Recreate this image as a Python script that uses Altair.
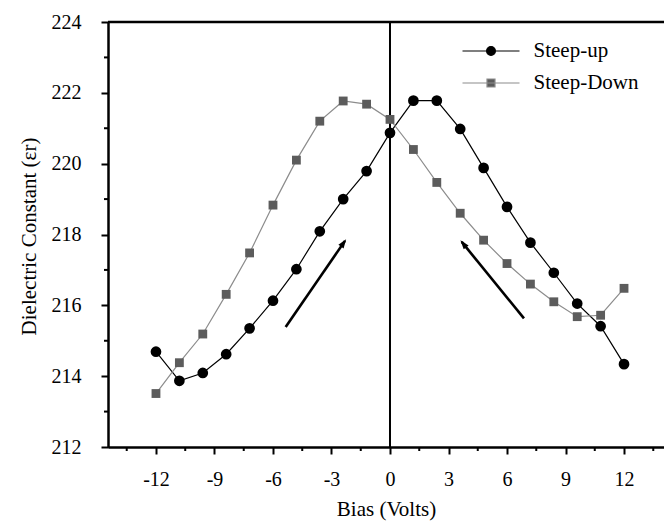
import altair as alt
import pandas as pd

# ---- data ----
bias = [-12.0, -10.8, -9.6, -8.4, -7.2, -6.0, -4.8, -3.6, -2.4, -1.2, 0.0,
        1.2, 2.4, 3.6, 4.8, 6.0, 7.2, 8.4, 9.6, 10.8, 12.0]
steep_up = [214.69, 213.87, 214.09, 214.62, 215.35, 216.13, 217.02, 218.09, 219.00, 219.79, 220.87,
            221.78, 221.78, 220.98, 219.88, 218.78, 217.77, 216.92, 216.05, 215.41, 214.34]
steep_down = [213.51, 214.38, 215.19, 216.31, 217.48, 218.83, 220.10, 221.20, 221.77, 221.68, 221.25,
              220.40, 219.47, 218.60, 217.84, 217.18, 216.60, 216.10, 215.68, 215.72, 216.48]
series_names = ["Steep-up", "Steep-Down"]
line_colors = ["#000000", "#8c8c8c"]
marker_fills = ["#000000", "#5c5c5c"]

x_major_ticks = [-12, -9, -6, -3, 0, 3, 6, 9, 12]
x_minor_ticks = [-13.5, -10.5, -7.5, -4.5, -1.5, 1.5, 4.5, 7.5, 10.5, 13.5]
y_major_ticks = [212, 214, 216, 218, 220, 222, 224]
y_minor_ticks = [213, 215, 217, 219, 221, 223]
x_domain = [-14.46, 14.05]
y_domain = [212, 224]

zero_line = [0]
top_border = [224]

arrow_id = ["up", "up", "down", "down"]
arrow_x = [-5.35, -2.31, 6.87, 3.68]
arrow_y = [215.39, 217.82, 215.63, 217.79]
head_x = [-2.31, 3.68]
head_y = [217.82, 217.79]
head_angle = [34.6, 321.0]

W, H = 556, 425

# ---- tables ----
df = pd.DataFrame({
    "x": bias + bias,
    "y": steep_up + steep_down,
    "series": [series_names[0]] * len(bias) + [series_names[1]] * len(bias),
})
arrows = pd.DataFrame({"id": arrow_id, "x": arrow_x, "y": arrow_y})
heads = pd.DataFrame({"x": head_x, "y": head_y, "angle": head_angle})

x_scale = alt.Scale(domain=x_domain, nice=False, zero=False)
y_scale = alt.Scale(domain=y_domain, nice=False, zero=False)

x_axis = alt.Axis(
    values=x_major_ticks, labelExpr="'' + datum.value", tickSize=7,
    labelPadding=15, labelOverlap=False, labelFlush=False,
    title="Bias (Volts)", titleY=68, titleBaseline="alphabetic",
)
y_axis = alt.Axis(
    values=y_major_ticks, labelExpr="'' + datum.value", tickSize=7,
    labelPadding=20, labelOverlap=False, labelFlush=False,
    title="Dielectric Constant (εr)", titleX=-72.5, titleY=214, titleAngle=270,
    titleAlign="center", titleBaseline="alphabetic",
)


def X(field="x:Q"):
    return alt.X(field, scale=x_scale, axis=x_axis)


def Y(field="y:Q"):
    return alt.Y(field, scale=y_scale, axis=y_axis)


legend_circle = "M-2.85,0H2.85M0.44,0A0.44,0.44,0,1,1,-0.44,0A0.44,0.44,0,1,1,0.44,0Z"
legend_square = "M-2.85,0H2.85M-0.4,-0.4H0.4V0.4H-0.4Z"
leg = alt.Legend(
    title=None, orient="none", legendX=372, legendY=18, padding=0,
    labelFont="Liberation Serif", labelFontSize=21, labelColor="black",
    labelOffset=31.5, rowPadding=11, symbolSize=400, symbolOpacity=1,
    symbolStrokeWidth=1.2, direction="vertical",
)
stroke_enc = alt.Stroke("series:N", scale=alt.Scale(domain=series_names, range=line_colors), legend=leg)

zero = alt.Chart(pd.DataFrame({"v": zero_line})).mark_rule(
    color="black", strokeWidth=2).encode(x=X("v:Q"))
top = alt.Chart(pd.DataFrame({"v": top_border})).mark_rule(
    color="black", strokeWidth=2.5).encode(y=Y("v:Q"))

# minor ticks (short, outside the frame)
x_minor = alt.Chart(pd.DataFrame({"v": x_minor_ticks})).mark_rule(
    color="black", strokeWidth=2).encode(
    x=X("v:Q"), y=alt.value(H), y2=alt.value(H + 4))
y_minor = alt.Chart(pd.DataFrame({"v": y_minor_ticks})).mark_rule(
    color="black", strokeWidth=2).encode(
    y=Y("v:Q"), x=alt.value(0), x2=alt.value(-4))

lines = alt.Chart(df).mark_line(strokeWidth=1.2, opacity=1).encode(
    x=X(), y=Y(), stroke=stroke_enc,
)

squares = alt.Chart(df).transform_filter(alt.datum.series == series_names[1]).mark_point(
    shape="square", filled=True, size=78, color=marker_fills[1], opacity=1).encode(x=X(), y=Y())
circles = alt.Chart(df).transform_filter(alt.datum.series == series_names[0]).mark_point(
    shape="circle", filled=True, size=115, color=marker_fills[0], opacity=1).encode(x=X(), y=Y())

arrow_lines = alt.Chart(arrows).mark_line(color="black", strokeWidth=2.6).encode(
    x=X(), y=Y(), detail="id:N")
arrow_heads = alt.Chart(heads).mark_point(
    shape="M0,-0.6L0.9,2L-0.9,2Z", filled=True, size=49, color="black", opacity=1,
    strokeWidth=0).encode(
    x=X(), y=Y(), angle=alt.Angle("angle:Q", scale=None))

legend_layer = alt.Chart(df).transform_filter("false").mark_point(
    filled=True, size=400, opacity=1).encode(
    x=X(), y=Y(),
    shape=alt.Shape("series:N", scale=alt.Scale(domain=series_names, range=[legend_circle, legend_square]), legend=leg),
    fill=alt.Fill("series:N", scale=alt.Scale(domain=series_names, range=marker_fills), legend=leg),
    stroke=stroke_enc,
)

chart = alt.layer(
    zero, top, x_minor, y_minor, lines, squares, circles, arrow_lines, arrow_heads, legend_layer
).properties(
    width=W, height=H,
    padding={"left": 100, "top": 14, "right": 0, "bottom": 75},
    autosize=alt.AutoSizeParams(type="none"),
).configure_view(
    stroke="black", strokeWidth=1
).configure_axis(
    domainColor="black", domainWidth=2.5, tickColor="black", tickWidth=2,
    labelFont="Liberation Serif", labelFontSize=20, labelColor="black",
    titleFont="Liberation Serif", titleFontSize=21, titleFontWeight="normal", titleColor="black",
    grid=False,
)

chart.save("out.html", embed_options={"renderer": "svg", "actions": False})
